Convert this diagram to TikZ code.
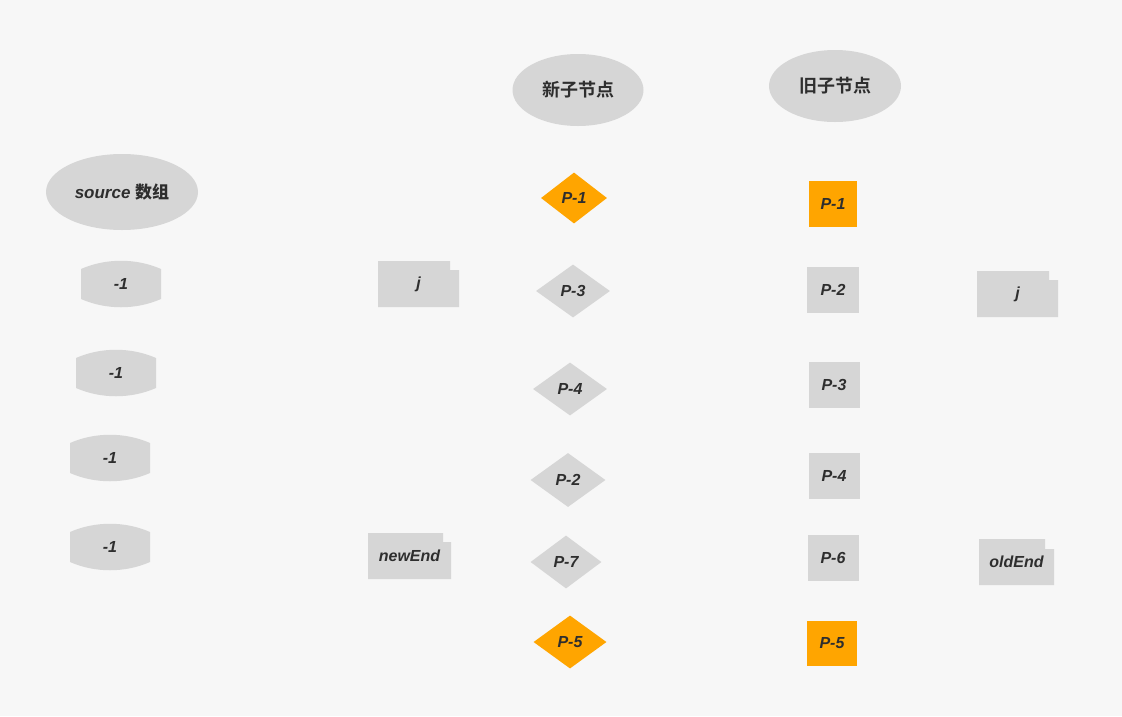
\documentclass[tikz,border=0pt]{standalone}
\usepackage{fontspec}
\setmainfont{Liberation Sans}
\newfontfamily\cjk{Noto Sans CJK SC}[BoldFont={Noto Sans CJK SC Bold}]
\usetikzlibrary{shapes.geometric,calc}
\definecolor{bgc}{HTML}{F7F7F7}
\definecolor{boxgray}{HTML}{D6D6D6}
\definecolor{orng}{HTML}{FFA500}
\definecolor{txt}{HTML}{2E2E2E}
\tikzset{
  lab/.style={inner sep=0pt, text=txt, font=\fontsize{16}{18}\selectfont\bfseries\itshape},
  cjklab/.style={inner sep=0pt, text=txt, font=\fontsize{18}{20}\selectfont\cjk\bfseries},
  oval/.style={ellipse, fill=boxgray, inner sep=0pt},
  dia/.style={diamond, fill=boxgray, inner sep=0pt, text=txt, font=\fontsize{16}{18}\selectfont\bfseries\itshape},
  sq/.style={rectangle, fill=boxgray, inner sep=0pt, text=txt, font=\fontsize{16}{18}\selectfont\bfseries\itshape},
}
\newcommand\barrelnode[4]{%
  \begin{scope}[shift={(#2,#3)}]
    \fill[boxgray] (-40,-15) .. controls (-15,-26) and (15,-26) .. (40,-15) -- (40,15) .. controls (15,26) and (-15,26) .. (-40,15) -- cycle;
    \node[lab] (#1) at (0,0) {#4};
  \end{scope}}
\newcommand\notchnode[8]{%
  \fill[boxgray] (#2,#3) -- (#6,#3) -- (#6,#7) -- (#4,#7) -- (#4,#5) -- (#2,#5) -- cycle;
  \node[lab] (#1) at ($(#2,#3)!0.5!(#4,#5)$) {#8};}
\begin{document}
\begin{tikzpicture}[x=1pt,y=-1pt]
\fill[bgc] (0,0) rectangle (1122,716);
\useasboundingbox (0,0) rectangle (1122,716);

% header ovals
\node[oval, minimum width=152pt, minimum height=76pt] (src) at (122,192) {};
\node[lab, font=\fontsize{17}{19}\selectfont] (srct) at (122,192) {\bfseries\itshape source \cjk\bfseries 数组};
\node[oval, minimum width=131pt, minimum height=72pt] (newh) at (578,90) {};
\node[cjklab] (newht) at (578,90) {新子节点};
\node[oval, minimum width=132pt, minimum height=72pt] (oldh) at (835,86) {};
\node[cjklab] (oldht) at (835,86) {旧子节点};

% source array
\barrelnode{s1}{121}{284}{-1}
\barrelnode{s2}{116}{373}{-1}
\barrelnode{s3}{110}{458}{-1}
\barrelnode{s4}{110}{547}{-1}

% pointers
\notchnode{jl}{378}{261}{459}{307}{450}{270}{j}
\notchnode{ne}{368}{533}{451}{579}{443}{542}{newEnd}
\notchnode{jr}{977}{271}{1058}{317}{1049}{280}{j}
\notchnode{oe}{979}{539}{1054}{585}{1045}{549}{oldEnd}

% new children
\node[dia, fill=orng, minimum width=66pt, minimum height=51pt] (n1) at (574,198) {P-1};
\node[dia, minimum width=74pt, minimum height=53pt] (n3) at (573,291) {P-3};
\node[dia, minimum width=74pt, minimum height=53pt] (n4) at (570,389) {P-4};
\node[dia, minimum width=75pt, minimum height=54pt] (n2) at (568,480) {P-2};
\node[dia, minimum width=71pt, minimum height=53pt] (n7) at (566,562) {P-7};
\node[dia, fill=orng, minimum width=73pt, minimum height=53pt] (n5) at (570,642) {P-5};

% old children
\node[sq, fill=orng, minimum width=48pt, minimum height=46pt] (o1) at (833,204) {P-1};
\node[sq, minimum width=52pt, minimum height=46pt] (o2) at (833,290) {P-2};
\node[sq, minimum width=51pt, minimum height=46pt] (o3) at (834,385) {P-3};
\node[sq, minimum width=51pt, minimum height=46pt] (o4) at (834,476) {P-4};
\node[sq, minimum width=51pt, minimum height=46pt] (o6) at (833,558) {P-6};
\node[sq, fill=orng, minimum width=50pt, minimum height=45pt] (o5) at (832,643) {P-5};
\end{tikzpicture}
\end{document}
